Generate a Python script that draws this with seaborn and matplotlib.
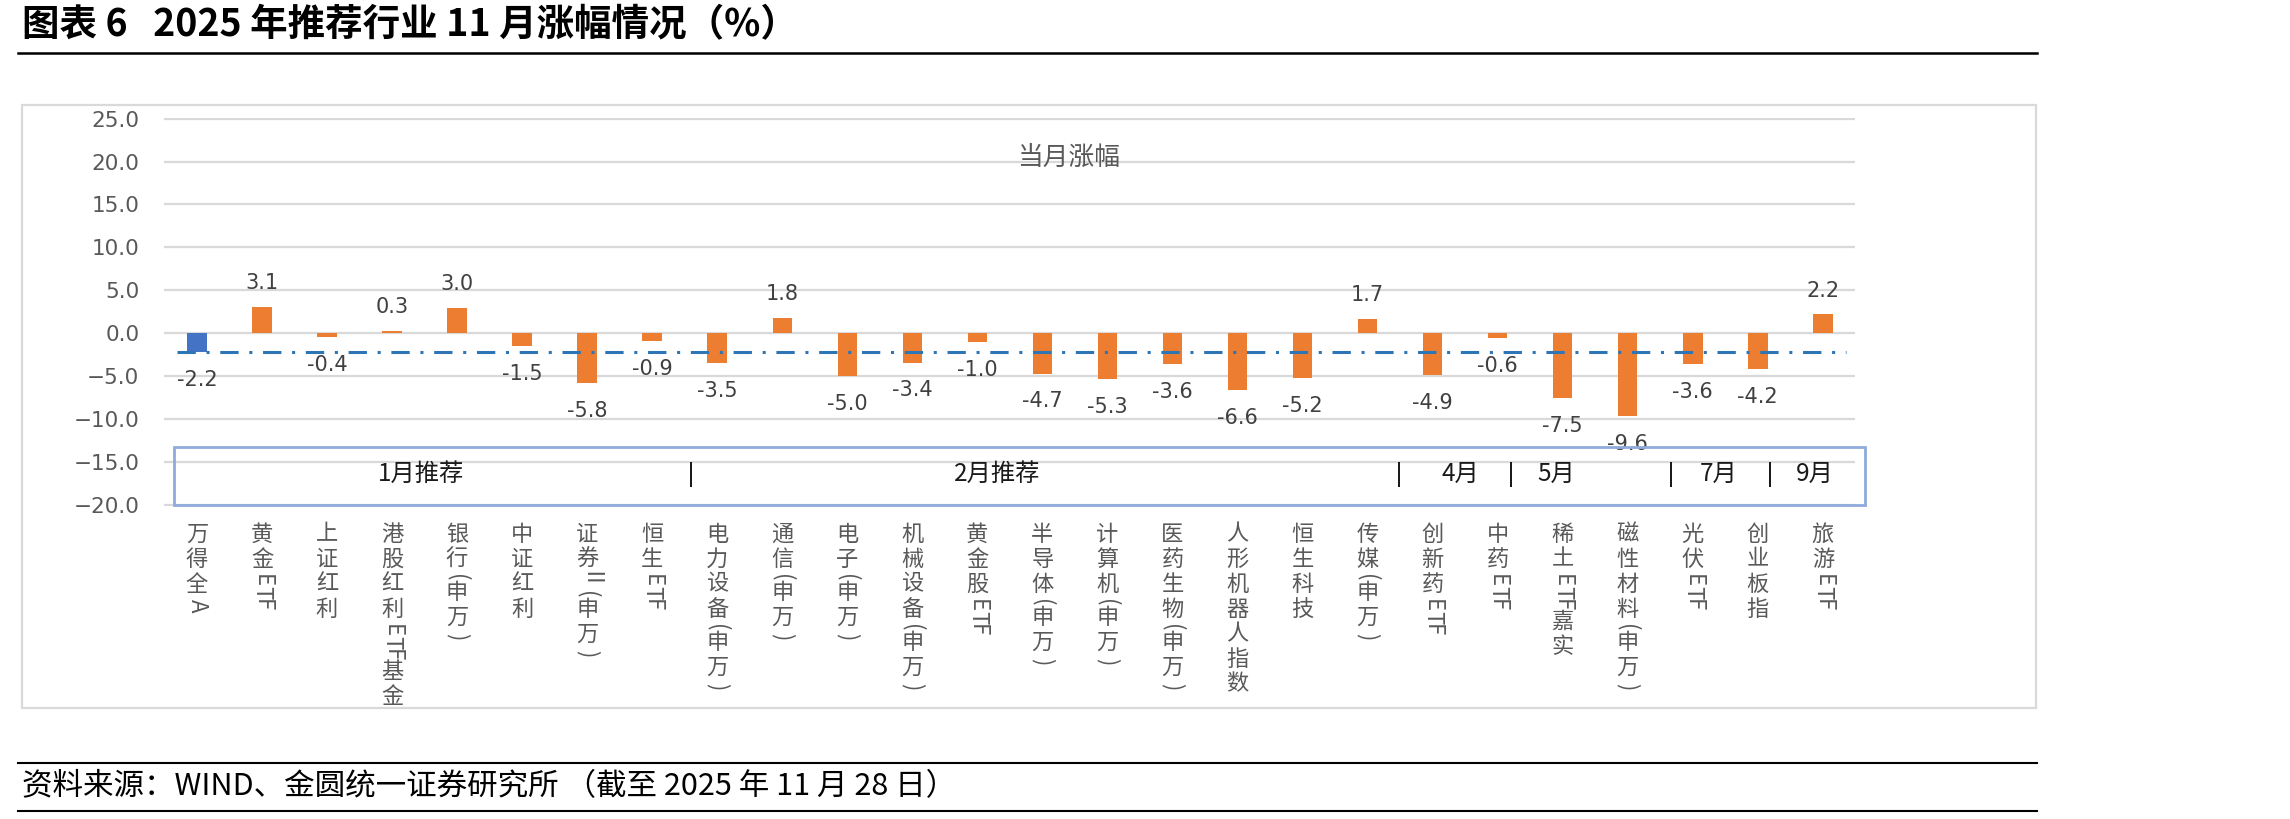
import matplotlib
matplotlib.use("Agg")
import matplotlib.pyplot as plt
import seaborn as sns
import pandas as pd
from matplotlib.patches import Rectangle
from matplotlib.lines import Line2D
from matplotlib.ticker import FuncFormatter

plt.rcParams["font.family"] = ["Noto Sans CJK SC", "DejaVu Sans"]
plt.rcParams["axes.unicode_minus"] = True

categories = ["万得全A", "黄金ETF", "上证红利", "港股红利ETF基金", "银行(申万)", "中证红利",
              "证券Ⅱ(申万)", "恒生ETF", "电力设备(申万)", "通信(申万)", "电子(申万)",
              "机械设备(申万)", "黄金股ETF", "半导体(申万)", "计算机(申万)", "医药生物(申万)",
              "人形机器人指数", "恒生科技", "传媒(申万)", "创新药ETF", "中药ETF", "稀土ETF嘉实",
              "磁性材料(申万)", "光伏ETF", "创业板指", "旅游ETF"]
values = [-2.2, 3.1, -0.4, 0.3, 3.0, -1.5, -5.8, -0.9, -3.5, 1.8, -5.0, -3.4, -1.0,
          -4.7, -5.3, -3.6, -6.6, -5.2, 1.7, -4.9, -0.6, -7.5, -9.6, -3.6, -4.2, 2.2]
group_names = ["1月推荐", "2月推荐", "4月", "5月", "7月", "9月"]
yticks = [-20, -15, -10, -5, 0, 5, 10, 15, 20, 25]
series_name = "当月涨幅"
title = "图表 6   2025 年推荐行业 11 月涨幅情况（%）"
source = "资料来源：WIND、金圆统一证券研究所 （截至 2025 年 11 月 28 日）"

df = pd.DataFrame({"name": categories, "chg": values})
palette = {c: ("#4472c4" if i == 0 else "#ed7d31") for i, c in enumerate(categories)}

fig = plt.figure(figsize=(22.9, 8.19), dpi=100)
ax = fig.add_axes([0.0718, 0.3822, 0.7384, 0.4741])
sns.barplot(data=df, x="name", y="chg", hue="name", palette=palette, legend=False,
            width=0.3, linewidth=0, saturation=1, ax=ax)

ax.set_xlim(-0.5, 25.5)
ax.set_ylim(-20.1, 25.1)
ax.set_yticks(yticks)
ax.yaxis.set_major_formatter(FuncFormatter(lambda v, p: f"{v:.1f}".replace("-", "\u2212")))
ax.grid(axis="y", color="#d9d9d9", lw=1.6)
ax.grid(axis="x", visible=False)
ax.set_axisbelow(True)
for s in ax.spines.values():
    s.set_visible(False)
ax.tick_params(axis="both", length=0)
ax.tick_params(axis="y", labelsize=15.5, labelcolor="#595959", pad=18)
ax.tick_params(axis="x", labelbottom=False)
ax.set_xlabel("")
ax.set_ylabel("")
for t in ax.get_yticklabels():
    t.set_fontfamily("DejaVu Sans")

# data labels
for i, v in enumerate(values):
    off = 17 if v > 0 else -20
    ax.annotate(f"{v:.1f}", xy=(i, v), xytext=(0, off), textcoords="offset points",
                ha="center", va="center", fontsize=15, color="#404040", family="DejaVu Sans")

# market reference line (万得全A)
ax.hlines(values[0], -0.3, 25.35, colors="#2e75b6", lw=2.2, linestyles=(0, (6, 3.5, 1, 3.5)), zorder=3)

ax.text(13.4, 20.45, series_name, ha="center", va="center", fontsize=18.5, color="#595959")

# recommendation month box
ax.add_patch(Rectangle((-0.35, -20.0), 26.0, 6.8, fill=False, edgecolor="#8faadc", lw=2, clip_on=False, zorder=4))
group_x = [3.45, 12.3, 19.42, 20.9, 23.4, 24.87]
for name, gx in zip(group_names, group_x):
    ax.text(gx, -16.4, name, ha="center", va="center", fontsize=17.5, color="#1a1a1a")
for sx in [7.6, 18.48, 20.2, 22.67, 24.19]:
    ax.text(sx, -16.4, "|", ha="center", va="center", fontsize=17, color="#1a1a1a", family="DejaVu Sans")

# vertical category labels: CJK upright, latin letters / brackets turned sideways
for i, label in enumerate(categories):
    y = -12
    for ch in label:
        if ord(ch) >= 0x2E80:
            ax.annotate(ch, xy=(i, 0), xycoords=("data", "axes fraction"), xytext=(0, y),
                        textcoords="offset points", ha="center", va="top", fontsize=16, color="#595959")
            y -= 18
        else:
            pitch = 6 if ch in "()" else (12 if ch == "Ⅱ" else 9)
            ax.annotate(ch, xy=(i, 0), xycoords=("data", "axes fraction"), xytext=(0, y - pitch / 2 - 1),
                        textcoords="offset points", ha="center", va="center", rotation=-90,
                        fontsize=16, color="#595959")
            y -= pitch

# chart frame
fig.add_artist(Rectangle((0.0096, 0.1355), 0.8795, 0.7363, transform=fig.transFigure,
                         fill=False, edgecolor="#d9d9d9", lw=1.6))

# title and source
fig.text(0.0096, 0.9939, title, ha="left", va="top", fontsize=27, fontweight="bold", color="black")
fig.add_artist(Line2D([0.0079, 0.8895], [0.9353, 0.9353], transform=fig.transFigure, color="black", lw=1.8))
fig.add_artist(Line2D([0.0079, 0.8895], [0.0684, 0.0684], transform=fig.transFigure, color="black", lw=1.5))
fig.add_artist(Line2D([0.0079, 0.8895], [0.0098, 0.0098], transform=fig.transFigure, color="black", lw=1.5))
fig.text(0.0096, 0.039, source, ha="left", va="center", fontsize=22, color="black")

fig.savefig("out.png", dpi=100)
